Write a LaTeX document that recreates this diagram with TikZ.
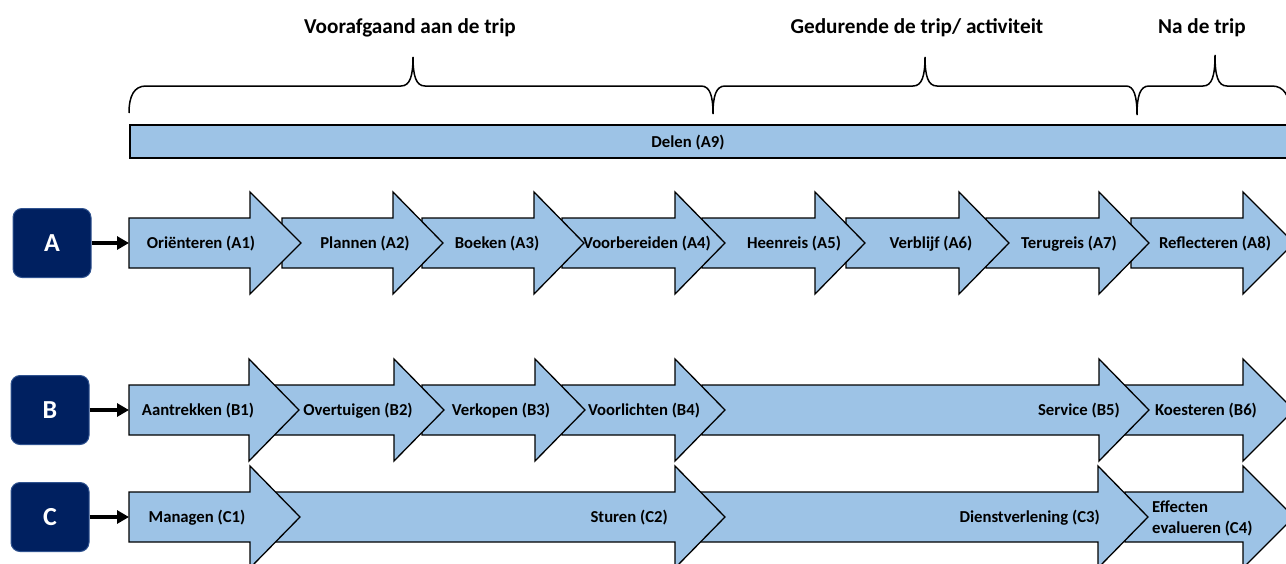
\documentclass[tikz,border=0pt]{standalone}
\usepackage{fontspec}
\setmainfont{Carlito}
\usetikzlibrary{arrows.meta}
\definecolor{StageBlue}{RGB}{157,195,230}
\definecolor{BoxNavy}{RGB}{0,32,96}
\definecolor{BoxEdge}{RGB}{47,82,143}

\tikzset{
  stage/.style={fill=StageBlue, draw=black, line width=1.3pt, line join=miter},
  lbl/.style={font=\fontsize{16.7}{21}\selectfont\bfseries, inner sep=0pt},
  phase/.style={font=\fontsize{21.2}{24}\selectfont\bfseries, inner sep=0pt},
  letterbox/.style={fill=BoxNavy, draw=BoxEdge, line width=1pt, rounded corners=9pt,
    minimum width=78pt, minimum height=69pt, text=white, font=\fontsize{26}{30}\selectfont\bfseries},
  conn/.style={line width=3.8pt, -{Triangle[length=12pt,width=13pt]}},
}

\begin{document}
\begin{tikzpicture}[x=1pt,y=-1pt]
\useasboundingbox (0,0) rectangle (1286,563);
\clip (0,0) rectangle (1286,563);

% phases
\node[phase] (pre) at (410,28) {Voorafgaand aan de trip};
\node[phase] (during) at (917,28) {Gedurende de trip/ activiteit};
\node[phase] (post) at (1202,28) {Na de trip};

\draw[line width=1.5pt] (129,113) .. controls (129,96) and (134,86) .. (146,86) -- (401,86)
  .. controls (410,86) and (413,76) .. (413,57) .. controls (413,76) and (416,86) .. (425,86) -- (701,86)
  .. controls (710,86) and (713,96) .. (713,114) .. controls (713,96) and (716,86) .. (725,86) -- (913,86)
  .. controls (922,86) and (925,76) .. (925,57) .. controls (925,76) and (928,86) .. (937,86) -- (1126,86)
  .. controls (1134,86) and (1137,96) .. (1137,115) .. controls (1137,96) and (1140,86) .. (1149,86) -- (1203,86)
  .. controls (1212,86) and (1215,76) .. (1215,55) .. controls (1215,76) and (1218,86) .. (1227,86) -- (1272,86)
  .. controls (1284,86) and (1290,96) .. (1290,113);

% shared bar
\draw[stage] (130,125) rectangle (1300,158);
\node[lbl] (A9) at (688,143) {Delen (A9)};

% row A
\draw[stage] (1131,218) -- (1243,218) -- (1243,192) -- (1294,243) -- (1243,294) -- (1243,268) -- (1131,268) -- cycle;
\draw[stage] (986,218) -- (1099,218) -- (1099,192) -- (1149,243) -- (1099,294) -- (1099,268) -- (986,268) -- cycle;
\draw[stage] (846,218) -- (959,218) -- (959,192) -- (1009,243) -- (959,294) -- (959,268) -- (846,268) -- cycle;
\draw[stage] (702,218) -- (815,218) -- (815,192) -- (865,243) -- (815,294) -- (815,268) -- (702,268) -- cycle;
\draw[stage] (562,218) -- (675,218) -- (675,192) -- (725,243) -- (675,294) -- (675,268) -- (562,268) -- cycle;
\draw[stage] (422,218) -- (534,218) -- (534,192) -- (584,243) -- (534,294) -- (534,268) -- (422,268) -- cycle;
\draw[stage] (282,218) -- (393,218) -- (393,192) -- (443,243) -- (393,294) -- (393,268) -- (282,268) -- cycle;
\draw[stage] (129,218) -- (250,218) -- (250,192) -- (301,243) -- (250,294) -- (250,268) -- (129,268) -- cycle;
\coordinate (A1in) at (129,243);

\node[lbl] (A1) at (201,244) {Oriënteren (A1)};
\node[lbl] (A2) at (365,244) {Plannen (A2)};
\node[lbl] (A3) at (497,244) {Boeken (A3)};
\node[lbl] (A4) at (647,244) {Voorbereiden (A4)};
\node[lbl] (A5) at (794,244) {Heenreis (A5)};
\node[lbl] (A6) at (931,244) {Verblijf (A6)};
\node[lbl] (A7) at (1069,244) {Terugreis (A7)};
\node[lbl] (A8) at (1215,244) {Reflecteren (A8)};

% row B
\draw[stage] (1124,385) -- (1243,385) -- (1243,359) -- (1294,410) -- (1243,461) -- (1243,435) -- (1124,435) -- cycle;
\draw[stage] (702,385) -- (1099,385) -- (1099,359) -- (1149,410) -- (1099,461) -- (1099,435) -- (702,435) -- cycle;
\draw[stage] (562,385) -- (675,385) -- (675,359) -- (725,410) -- (675,461) -- (675,435) -- (562,435) -- cycle;
\draw[stage] (422,385) -- (535,385) -- (535,359) -- (585,410) -- (535,461) -- (535,435) -- (422,435) -- cycle;
\draw[stage] (275,385) -- (394,385) -- (394,359) -- (444,410) -- (394,461) -- (394,435) -- (275,435) -- cycle;
\draw[stage] (129,385) -- (249,385) -- (249,359) -- (299,410) -- (249,461) -- (249,435) -- (129,435) -- cycle;
\coordinate (B1in) at (129,410);

\node[lbl] (B1) at (198,411) {Aantrekken (B1)};
\node[lbl] (B2) at (358,411) {Overtuigen (B2)};
\node[lbl] (B3) at (501,411) {Verkopen (B3)};
\node[lbl] (B4) at (644,411) {Voorlichten (B4)};
\node[lbl, anchor=east] (B5) at (1120,411) {Service (B5)};
\node[lbl] (B6) at (1206,411) {Koesteren (B6)};

% row C
\draw[stage] (1125,492) -- (1243,492) -- (1243,466) -- (1294,517) -- (1243,568) -- (1243,542) -- (1125,542) -- cycle;
\draw[stage] (700,492) -- (1098,492) -- (1098,466) -- (1148,517) -- (1098,568) -- (1098,542) -- (700,542) -- cycle;
\draw[stage] (275,492) -- (675,492) -- (675,466) -- (725,517) -- (675,568) -- (675,542) -- (275,542) -- cycle;
\draw[stage] (129,492) -- (250,492) -- (250,466) -- (300,517) -- (250,568) -- (250,542) -- (129,542) -- cycle;
\coordinate (C1in) at (129,517);

\node[lbl] (C1) at (197,518) {Managen (C1)};
\node[lbl, anchor=east] (C2) at (668,518) {Sturen (C2)};
\node[lbl, anchor=east] (C3) at (1100,518) {Dienstverlening (C3)};
\node[lbl, anchor=west, align=left] (C4) at (1152,518) {Effecten\\evalueren (C4)};

% perspective boxes
\node[letterbox] (boxA) at (52,243) {A};
\node[letterbox] (boxB) at (50,410) {B};
\node[letterbox] (boxC) at (50,517) {C};

\draw[conn] (boxA) -- (A1in);
\draw[conn] (boxB) -- (B1in);
\draw[conn] (boxC) -- (C1in);
\end{tikzpicture}
\end{document}
